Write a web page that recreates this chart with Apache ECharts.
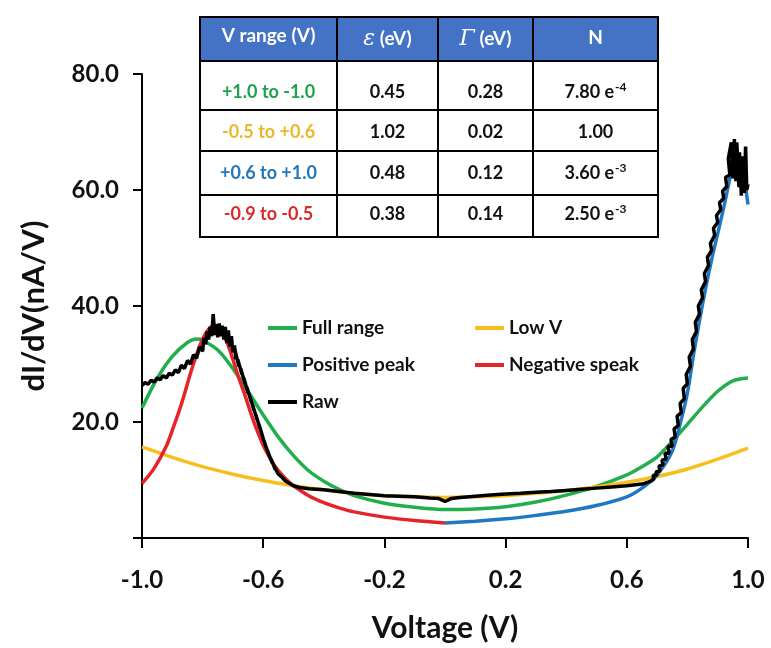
<!DOCTYPE html>
<html>
<head>
<meta charset="utf-8">
<title>dI/dV fit</title>
<script src="https://cdn.jsdelivr.net/npm/echarts@6/dist/echarts.min.js"></script>
<style>
  * { margin: 0; padding: 0; }
  html, body { width: 771px; height: 648px; background: #fff; overflow: hidden; }
  #main { width: 771px; height: 648px; }
</style>
</head>
<body>
<div id="main"></div>
<script>
// tick labels on the x axis
var xTicks = [-1.0, -0.6, -0.2, 0.2, 0.6, 1.0];

// fitted curves [V, dI/dV]
var fullRange = [[-1.0,22.4],[-0.95,27.5],[-0.9,31.3],[-0.85,33.7],[-0.82,34.3],[-0.8,34.1],[-0.75,32.4],[-0.7,29.2],
  [-0.65,25.3],[-0.6,21.2],[-0.55,17.4],[-0.5,14.2],[-0.45,11.6],[-0.4,9.8],[-0.35,8.4],[-0.3,7.3],[-0.2,6.0],
  [-0.1,5.3],[0.0,4.9],[0.1,5.0],[0.2,5.4],[0.3,6.2],[0.4,7.4],[0.5,8.9],[0.6,10.9],[0.65,12.3],[0.7,14.0],
  [0.75,16.7],[0.8,19.6],[0.85,22.6],[0.9,25.3],[0.95,27.1],[1.0,27.6]];

var lowV = [[-1.0,15.7],[-0.9,13.9],[-0.8,12.3],[-0.7,11.0],[-0.6,9.9],[-0.5,9.0],[-0.4,8.3],[-0.3,7.7],[-0.2,7.3],
  [-0.1,7.1],[0.0,7.0],[0.1,7.1],[0.2,7.3],[0.3,7.7],[0.4,8.2],[0.5,8.8],[0.6,9.6],[0.7,10.6],[0.8,11.9],[0.9,13.6],[1.0,15.5]];

var positivePeak = [[0.0,2.6],[0.1,2.9],[0.2,3.3],[0.3,3.9],[0.4,4.6],[0.5,5.6],[0.6,7.1],[0.65,8.6],[0.7,10.9],
  [0.75,15.0],[0.78,20.5],[0.8,25.0],[0.82,31.5],[0.84,37.5],[0.86,43.0],[0.88,48.0],[0.9,52.5],[0.92,57.0],
  [0.94,62.0],[0.955,65.8],[0.965,66.3],[0.975,65.2],[0.985,62.8],[1.0,57.5]];

var negativePeak = [[-1.0,9.4],[-0.96,12.0],[-0.92,15.8],[-0.9,18.6],[-0.88,21.5],[-0.86,24.8],[-0.84,28.4],[-0.82,31.6],
  [-0.8,34.3],[-0.78,36.0],[-0.76,36.7],[-0.74,36.0],[-0.72,33.8],[-0.7,30.8],[-0.68,27.5],[-0.66,24.6],[-0.64,21.4],
  [-0.62,18.5],[-0.6,16.0],[-0.58,14.0],[-0.56,12.3],[-0.54,11.0],[-0.52,9.9],[-0.5,9.0],[-0.45,7.3],[-0.4,6.1],
  [-0.35,5.2],[-0.3,4.5],[-0.2,3.6],[-0.1,3.0],[0.0,2.6]];

var raw = [[-1.0,26.3],[-0.99,26.8],[-0.98,26.5],[-0.97,27.2],[-0.96,26.9],[-0.95,27.6],[-0.94,27.3],[-0.93,28.0],
  [-0.92,27.6],[-0.91,28.4],[-0.9,28.1],[-0.89,29.0],[-0.88,28.5],[-0.87,29.8],[-0.86,29.2],[-0.85,30.6],[-0.84,30.0],
  [-0.83,31.6],[-0.82,31.0],[-0.81,33.0],[-0.8,32.2],[-0.795,34.5],[-0.79,33.4],[-0.785,35.6],[-0.78,34.2],[-0.775,36.4],
  [-0.77,34.8],[-0.765,38.6],[-0.76,35.0],[-0.755,36.8],[-0.75,34.6],[-0.745,37.0],[-0.74,34.8],[-0.735,36.6],[-0.73,34.2],
  [-0.725,36.4],[-0.72,33.6],[-0.715,35.8],[-0.71,33.0],[-0.705,34.8],[-0.7,32.0],[-0.695,33.2],[-0.69,30.8],[-0.693,32.4],
  [-0.68,29.6],[-0.684,30.8],[-0.67,28.2],[-0.674,29.2],[-0.66,26.6],[-0.664,27.6],[-0.65,25.0],[-0.654,26.0],[-0.64,23.6],
  [-0.644,24.4],[-0.63,22.0],[-0.634,22.8],[-0.62,20.4],[-0.624,21.2],[-0.61,18.8],[-0.614,19.6],[-0.6,17.2],[-0.604,17.8],
  [-0.59,15.6],[-0.594,16.2],[-0.58,14.2],[-0.584,14.8],[-0.57,12.9],[-0.574,13.6],[-0.56,11.8],[-0.564,12.4],[-0.55,11.0],
  [-0.54,10.6],[-0.53,10.0],[-0.52,9.6],[-0.51,9.3],[-0.5,9.0],[-0.48,8.7],[-0.45,8.5],[-0.4,8.3],[-0.35,8.0],[-0.3,7.7],
  [-0.25,7.5],[-0.2,7.3],[-0.15,7.2],[-0.1,7.1],[-0.05,6.9],[-0.02,6.8],[0.0,6.3],[0.02,6.8],[0.05,7.0],[0.1,7.2],
  [0.15,7.4],[0.2,7.6],[0.25,7.7],[0.3,7.9],[0.35,8.0],[0.4,8.2],[0.45,8.4],[0.5,8.6],[0.55,8.8],[0.6,9.0],[0.65,9.3],
  [0.68,9.8],[0.69,10.2],[0.686,10.8],[0.7,10.8],[0.696,11.4],[0.71,11.6],[0.706,12.4],[0.72,12.6],[0.716,13.4],
  [0.73,13.6],[0.726,14.6],[0.74,14.6],[0.736,15.8],[0.75,15.8],[0.746,17.0],[0.76,17.4],[0.756,18.8],[0.77,19.4],
  [0.766,21.0],[0.78,21.6],[0.776,23.2],[0.79,24.0],[0.786,25.8],[0.8,26.6],[0.796,28.2],[0.81,29.6],[0.806,31.2],
  [0.82,32.6],[0.816,34.2],[0.83,35.6],[0.826,37.2],[0.84,38.6],[0.836,40.0],[0.85,41.4],[0.846,42.8],[0.86,44.2],
  [0.856,45.6],[0.87,47.0],[0.866,48.4],[0.88,49.6],[0.876,50.8],[0.89,52.2],[0.886,53.4],[0.9,54.4],[0.896,55.6],
  [0.91,56.6],[0.906,57.8],[0.92,58.6],[0.916,59.8],[0.93,60.6],[0.926,62.2],[0.94,62.6],[0.935,65.4],[0.945,68.2],
  [0.95,62.0],[0.955,68.8],[0.96,61.5],[0.963,68.2],[0.97,60.5],[0.972,66.5],[0.978,59.0],[0.982,65.8],[0.988,59.5],
  [0.992,67.5],[0.996,60.0],[1.0,61.0]];

// inset table
var tableRanges = ['+1.0 to -1.0', '-0.5 to +0.6', '+0.6 to +1.0', '-0.9 to -0.5'];
var tableEps = ['0.45', '1.02', '0.48', '0.38'];
var tableGamma = ['0.28', '0.02', '0.12', '0.14'];
var tableNBase = ['7.80 e', '1.00', '3.60 e', '2.50 e'];
var tableNExp = ['-4', '', '-3', '-3'];

var green = '#22AE4C', yellow = '#F7BF1E', blue = '#1F78C1', red = '#E5242A';
var rangeColors = ['#1FA24A', '#EAB82A', '#2478B8', '#D92B2B'];
var font = 'Lato, "Open Sans", sans-serif';

var colX = [200, 337, 438, 533, 658];
var rowY = [17, 61, 110, 151, 195, 237];
var textY = [36, 92, 132, 173, 214];

function buildTable() {
  var els = [];
  var r, c;
  for (r = 0; r < rowY.length - 1; r++) {
    for (c = 0; c < colX.length - 1; c++) {
      els.push({
        type: 'rect',
        shape: { x: colX[c], y: rowY[r], width: colX[c + 1] - colX[c], height: rowY[r + 1] - rowY[r] },
        style: { fill: r === 0 ? '#4472C4' : '#fff', stroke: '#000', lineWidth: 2 }
      });
    }
  }
  var cx = [];
  for (c = 0; c < colX.length - 1; c++) cx.push((colX[c] + colX[c + 1]) / 2);

  var head = { fontFamily: font, fontWeight: 'bold', fontSize: 19, fill: '#fff', align: 'center', verticalAlign: 'middle' };
  var sym = { fontFamily: '"DejaVu Serif", serif', fontStyle: 'italic', fontSize: 22, fill: '#fff' };
  var unit = { fontFamily: font, fontWeight: 'bold', fontSize: 19, fill: '#fff' };
  els.push({ type: 'text', x: cx[0], y: textY[0], style: Object.assign({ text: 'V range (V)' }, head) });
  els.push({ type: 'text', x: cx[1], y: textY[0] + 3, style: Object.assign({ text: '{s|\u03B5}{t| (eV)}', rich: { s: sym, t: unit } }, head) });
  els.push({ type: 'text', x: cx[2], y: textY[0] + 3, style: Object.assign({ text: '{s|\u0393}{t| (eV)}', rich: { s: sym, t: unit } }, head) });
  els.push({ type: 'text', x: cx[3], y: textY[0] + 2, style: Object.assign({ text: 'N' }, head) });

  for (r = 0; r < tableRanges.length; r++) {
    var y = textY[r + 1];
    var cell = { fontFamily: font, fontWeight: 'bold', fontSize: 18, fill: '#111', align: 'center', verticalAlign: 'middle' };
    els.push({ type: 'text', x: cx[0], y: y, style: Object.assign({}, cell, { text: tableRanges[r], fill: rangeColors[r] }) });
    els.push({ type: 'text', x: cx[1], y: y, style: Object.assign({ text: tableEps[r] }, cell) });
    els.push({ type: 'text', x: cx[2], y: y, style: Object.assign({ text: tableGamma[r] }, cell) });
    var nText = tableNExp[r] ? '{b|' + tableNBase[r] + '}{e|' + tableNExp[r] + '}' : tableNBase[r];
    els.push({ type: 'text', x: cx[3], y: y, style: Object.assign({ text: nText, rich: {
      b: { fontFamily: font, fontWeight: 'bold', fontSize: 18, fill: '#111', lineHeight: 22 },
      e: { fontFamily: font, fontWeight: 'bold', fontSize: 12, fill: '#111', verticalAlign: 'top', lineHeight: 22, padding: [0, 0, 0, 1] }
    } }, cell) });
  }
  return els;
}

var chart = echarts.init(document.getElementById('main'), null, { renderer: 'canvas' });

var legendText = { fontFamily: font, fontWeight: 'bold', fontSize: 19, color: '#111', lineHeight: 20 };

chart.setOption({
  animation: false,
  backgroundColor: '#fff',
  grid: { left: 142, right: 23, top: 74, bottom: 105 },
  legend: [
    { data: ['Full range', 'Positive peak', 'Raw'], orient: 'vertical', left: 263, top: 313, icon: 'rect',
      itemWidth: 29, itemHeight: 4, itemGap: 17, textStyle: legendText },
    { data: ['Low V', 'Negative speak'], orient: 'vertical', left: 470, top: 313, icon: 'rect',
      itemWidth: 29, itemHeight: 4, itemGap: 17, textStyle: legendText }
  ],
  xAxis: {
    type: 'value', min: -1, max: 1,
    name: 'Voltage (V)', nameLocation: 'middle', nameGap: 75,
    nameTextStyle: { fontFamily: font, fontWeight: 'bold', fontSize: 30, color: '#111' },
    axisLine: { onZero: false, lineStyle: { color: '#000', width: 2 } },
    axisTick: { customValues: xTicks, length: 10, lineStyle: { color: '#000', width: 2 } },
    axisLabel: { customValues: xTicks, margin: 30, fontFamily: font, fontWeight: 'bold', fontSize: 24, color: '#111',
      formatter: function (v) { return v.toFixed(1); } },
    splitLine: { show: false }
  },
  yAxis: {
    type: 'value', min: 0, max: 80, interval: 20,
    name: 'dI/dV(nA/V)', nameLocation: 'middle', nameGap: 93, nameRotate: 90,
    nameTextStyle: { fontFamily: font, fontWeight: 'bold', fontSize: 31, color: '#111' },
    axisLine: { show: true, onZero: false, lineStyle: { color: '#000', width: 2 } },
    axisTick: { show: true, length: 9, lineStyle: { color: '#000', width: 2 } },
    axisLabel: { margin: 23, fontFamily: font, fontWeight: 'bold', fontSize: 24, color: '#111',
      formatter: function (v) { return v === 0 ? '' : v.toFixed(1); } },
    splitLine: { show: false }
  },
  series: [
    { name: 'Full range', type: 'line', data: fullRange, smooth: 0.3, showSymbol: false, color: green, lineStyle: { width: 3.5 } },
    { name: 'Low V', type: 'line', data: lowV, smooth: 0.3, showSymbol: false, color: yellow, lineStyle: { width: 3.5 } },
    { name: 'Positive peak', type: 'line', data: positivePeak, smooth: 0.3, showSymbol: false, color: blue, lineStyle: { width: 3.5 } },
    { name: 'Negative speak', type: 'line', data: negativePeak, smooth: 0.3, showSymbol: false, color: red, lineStyle: { width: 3.5 } },
    { name: 'Raw', type: 'line', data: raw, showSymbol: false, color: '#000', lineStyle: { width: 3.5 } }
  ],
  graphic: buildTable()
});
</script>
</body>
</html>
